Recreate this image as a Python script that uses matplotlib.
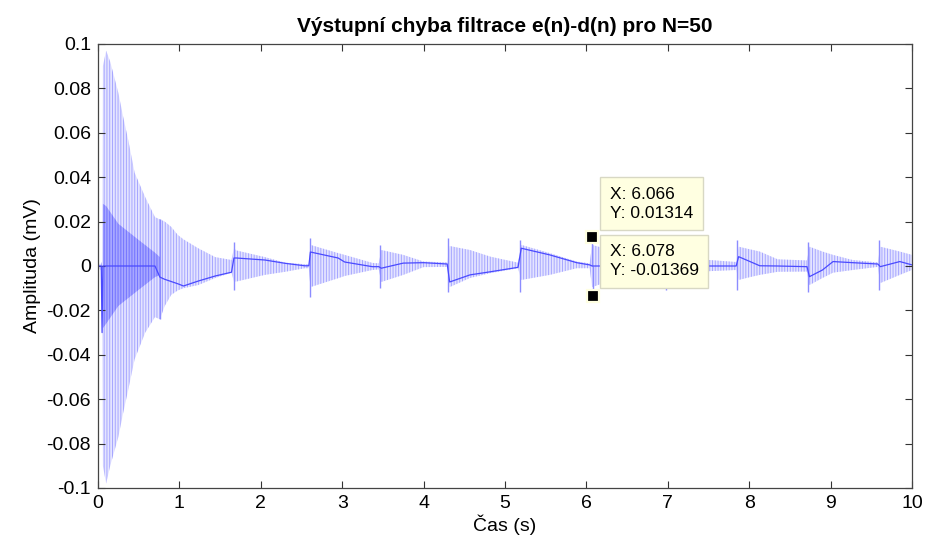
# Import libraries
import matplotlib
matplotlib.use("Agg")
import matplotlib.pyplot as plt


"""
Output error of the adaptive filter e(n)-d(n) for N=50.
The waveform is kept as envelope points read off the picture:
upper and lower edge of the striped area, plus the slow centre line.
"""


# Envelope time points (s)
t_env = [0.00, 0.04, 0.05, 0.06, 0.10, 0.15, 0.25, 0.31, 0.37, 0.45, 0.58, 0.70,
         0.76, 0.82, 0.90, 0.98, 1.05, 1.23, 1.44, 1.64,
         1.67, 1.70, 2.05, 2.30, 2.54, 2.59,
         2.61, 2.95, 3.03, 3.37, 3.45,
         3.48, 3.75, 4.00, 4.29,
         4.32, 4.57, 4.82, 5.16,
         5.20, 5.55, 5.88, 6.04,
         6.07, 6.50, 6.96,
         6.99, 7.40, 7.84,
         7.87, 8.01, 8.13, 8.35, 8.71,
         8.74, 8.90, 9.03, 9.27, 9.58,
         9.61, 9.85, 10.00]

# Upper edge of the stripes (mV)
upper_env = [0.001, 0.001, 0.002, 0.090, 0.097, 0.092, 0.078, 0.067, 0.057, 0.042, 0.031, 0.022,
             0.021, 0.020, 0.0176, 0.014, 0.012, 0.008, 0.004, 0.0027,
             0.008, 0.007, 0.004, 0.0015, 0.0008, 0.0008,
             0.0095, 0.0058, 0.005, 0.0014, 0.0012,
             0.0072, 0.005, 0.002, 0.0016,
             0.009, 0.0072, 0.0042, 0.0015,
             0.0095, 0.0058, 0.002, 0.0012,
             0.0095, 0.005, 0.0015,
             0.008, 0.003, 0.0018,
             0.0087, 0.0075, 0.0065, 0.003, 0.0025,
             0.0087, 0.0065, 0.005, 0.0027, 0.0016,
             0.0087, 0.0065, 0.005]

# Lower edge of the stripes (mV)
lower_env = [-0.001, -0.002, -0.030, -0.090, -0.098, -0.090, -0.077, -0.066, -0.056, -0.042, -0.030, -0.023,
             -0.024, -0.018, -0.013, -0.011, -0.010, -0.0086, -0.0054, -0.003,
             -0.007, -0.007, -0.004, -0.0026, -0.001, -0.001,
             -0.0095, -0.0055, -0.0045, -0.0018, -0.0015,
             -0.0072, -0.004, -0.0005, -0.0004,
             -0.0095, -0.0054, -0.0032, -0.001,
             -0.0063, -0.004, -0.001, -0.001,
             -0.0095, -0.004, -0.001,
             -0.008, -0.0025, -0.0018,
             -0.0063, -0.005, -0.004, -0.0026, -0.0025,
             -0.0086, -0.0054, -0.003, -0.0018, -0.0004,
             -0.0077, -0.004, -0.0018]

# Slow centre line (mV)
center_env = [0.0, 0.0, -0.030, 0.0, 0.0, 0.0, 0.0, 0.0, 0.0, 0.0, 0.0, 0.0,
              -0.005, -0.006, -0.007, -0.008, -0.009, -0.0068, -0.0045, -0.0028,
              0.0036, 0.0036, 0.0027, 0.0012, 0.0001, 0.0001,
              0.0063, 0.0036, 0.0018, -0.0003, -0.0003,
              -0.001, 0.0013, 0.0015, 0.0009,
              -0.0072, -0.004, -0.0026, -0.0006,
              0.008, 0.005, 0.0015, 0.0005,
              0.0, 0.0, 0.0,
              0.0, 0.0, 0.0,
              0.0042, 0.002, 0.0001, 0.0, -0.0003,
              -0.0048, -0.0018, 0.002, 0.0015, 0.0009,
              -0.0003, 0.002, 0.0005]

# Denser core of the first burst
core_t = [0.06, 0.10, 0.25, 0.49, 0.70, 0.76]
core_hi = [0.028, 0.027, 0.019, 0.012, 0.006, 0.004]
core_lo = [-0.028, -0.026, -0.018, -0.011, -0.005, -0.004]

# Single spikes where each new burst starts
spike_t = [0.76, 1.665, 2.60, 3.465, 4.305, 5.185, 6.066, 6.078, 6.975, 7.855, 8.725, 9.595]
spike_hi = [0.021, 0.011, 0.0126, 0.0095, 0.0126, 0.0117, 0.01314, 0.0, 0.010, 0.0117, 0.011, 0.0117]
spike_lo = [-0.024, -0.011, -0.014, -0.010, -0.0117, -0.0117, 0.0, -0.01369, -0.011, -0.011, -0.0116, -0.011]

# Data tips shown in the figure
tip_x = [6.066, 6.078]
tip_y = [0.01314, -0.01369]

# Axis ticks
x_ticks = list(range(0, 11))
y_ticks = [-0.1, -0.08, -0.06, -0.04, -0.02, 0, 0.02, 0.04, 0.06, 0.08, 0.1]
y_tick_labels = ["-0.1", "-0.08", "-0.06", "-0.04", "-0.02", "0",
                 "0.02", "0.04", "0.06", "0.08", "0.1"]


def create_error_plot():
    # Fonts close to MATLAB Helvetica
    plt.rcParams["font.family"] = ["Liberation Sans", "DejaVu Sans"]
    plt.rcParams["hatch.linewidth"] = 0.7

    # Figure with axes placed like the original
    fig = plt.figure(figsize=(9.26, 5.37), dpi=100)
    ax = fig.add_axes([98 / 926, 1 - 488 / 537, 814 / 926, 444 / 537])

    # Striped area of the signal
    ax.fill_between(t_env, lower_env, upper_env, facecolor="#e4e4ff",
                    edgecolor="#a6a6ff", hatch="||||||", linewidth=0)

    # Darker core of the first burst
    ax.fill_between(core_t, core_lo, core_hi, facecolor="#9a9aff",
                    edgecolor="#6a6aff", hatch="||||||", linewidth=0, alpha=0.8)

    # Spikes at the burst starts
    ax.vlines(spike_t, spike_lo, spike_hi, color="#8c8cff", linewidth=1.0)

    # Slow centre line
    ax.plot(t_env, center_env, color="#4a4aff", linewidth=0.9)

    # Data tip markers and boxes
    ax.plot(tip_x, tip_y, linestyle="none", marker="s", markersize=9,
            markerfacecolor="black", markeredgecolor="#ffffe1", markeredgewidth=1.6,
            zorder=5)
    offsets = [(18, 16), (17, 18)]
    for x, y, off in zip(tip_x, tip_y, offsets):
        ax.annotate(f"X: {x:.4g}\nY: {y:.4g}", xy=(x, y), xytext=off,
                    textcoords="offset pixels", ha="left", va="bottom",
                    fontsize=12.5, linespacing=1.35, zorder=6,
                    bbox=dict(boxstyle="square,pad=0.55", facecolor="#ffffe1",
                              edgecolor="#d8d8c4", linewidth=1.0))

    # Limits and ticks
    ax.set_xlim(0, 10)
    ax.set_ylim(-0.1, 0.1)
    ax.set_xticks(x_ticks)
    ax.set_yticks(y_ticks)
    ax.set_yticklabels(y_tick_labels)
    ax.tick_params(direction="in", length=5, width=0.8, top=True, right=True,
                   labelsize=14, colors="#333333", labelcolor="black", pad=5)
    for spine in ax.spines.values():
        spine.set_color("#444444")
        spine.set_linewidth(0.9)

    # Labels and title
    ax.set_xlabel("Čas (s)", fontsize=14, labelpad=2)
    ax.set_ylabel("Amplituda (mV)", fontsize=14, labelpad=4)
    ax.set_title("Výstupní chyba filtrace e(n)-d(n) pro N=50", fontsize=15,
                 fontweight="bold", pad=9)

    # Save the figure
    fig.savefig("out.png", dpi=100)
    plt.close(fig)


# Run function only when file is run directly
if __name__ == "__main__":
    create_error_plot()
